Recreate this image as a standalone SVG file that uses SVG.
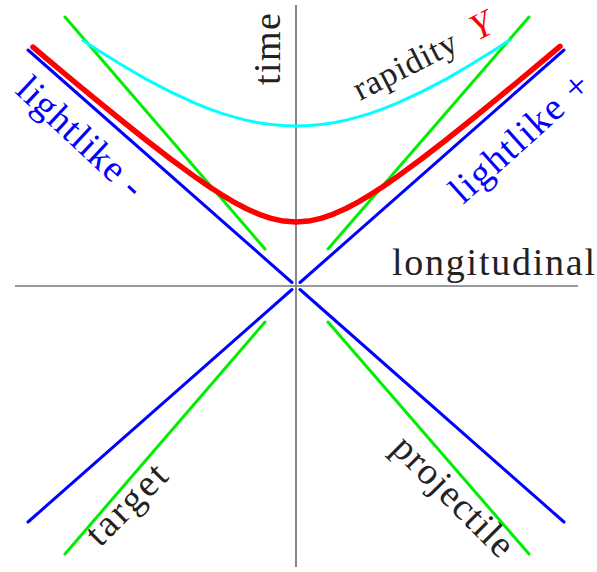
<svg xmlns="http://www.w3.org/2000/svg" width="597" height="572" viewBox="0 0 597 572">
<style>
.ln{fill:none;stroke-linecap:round;stroke-linejoin:round}
.blue{stroke:#0000ff;stroke-width:3}
.green{stroke:#00ee00;stroke-width:3}
.cyan{stroke:#00ffff;stroke-width:3}
.red{stroke:#ff0000;stroke-width:5.5}
.lbl{font-family:"Liberation Serif","DejaVu Serif",serif;font-size:38px;fill:#222}
.bl{fill:#0000ff}
</style>
<rect width="597" height="572" fill="#fff"/>
<g id="axes">
<line x1="296" y1="5" x2="296" y2="567" stroke="#333" stroke-width="1.2"/>
<line x1="15" y1="286" x2="578" y2="286" stroke="#777" stroke-width="1.6"/>
</g>
<g id="connectors">
<g id="lightlike-lines" class="ln blue">
<line x1="28" y1="50" x2="292" y2="282.5"/>
<line x1="300" y1="282.5" x2="564" y2="50"/>
<line x1="292" y1="289.5" x2="28" y2="522"/>
<line x1="300" y1="289.5" x2="564" y2="522"/>
</g>
<g id="beam-lines" class="ln green">
<line x1="65" y1="17" x2="265" y2="249"/>
<line x1="328" y1="249" x2="529" y2="17"/>
<line x1="265" y1="322" x2="65" y2="554"/>
<line x1="328" y1="322" x2="529" y2="554"/>
</g>
<polyline id="rapidity-curve" class="ln cyan" points="83,40.4 96,48.9 121,64.5 146,79.1 171,92.2 196,103.6 208.5,108.6 221,113.1 233.5,116.9 246,120.1 258.5,122.7 271,124.5 283.5,125.6 296,126 308.5,125.6 321,124.5 333.5,122.7 346,120.1 358.5,116.9 371,113.1 383.5,108.6 396,103.6 421,92.2 446,79.1 471,64.5 496,48.9 509,40.4"/>
<polyline id="hyperbola" class="ln red" points="33,47.1 46,58.1 71,79 96,99.7 121,120 146,140 171,159.3 196,177.6 208.5,186.2 221,194.3 233.5,201.8 246,208.5 258.5,214.1 271,218.4 283.5,221.1 296,222 308.5,221.1 321,218.4 333.5,214.1 346,208.5 358.5,201.8 371,194.3 383.5,186.2 396,177.6 421,159.3 446,140 471,120 496,99.7 521,79 546,58.1 560,46.3"/>
</g>
<g id="label-time"><text class="lbl" transform="translate(280,85) rotate(-90)" textLength="72">time</text></g>
<g id="label-longitudinal"><text class="lbl" x="392" y="275" textLength="203">longitudinal</text></g>
<g id="label-rapidity" transform="translate(360,101) rotate(-27)">
<text class="lbl" style="font-size:34px" textLength="112">rapidity</text>
<text x="132" y="0" style="font-family:'Liberation Serif','DejaVu Serif',serif;font-size:37px;font-style:italic;fill:#ff0000">Y</text>
</g>
<g id="label-lightlike-plus"><text class="lbl bl" transform="translate(463,205) rotate(-42)" textLength="174">lightlike +</text></g>
<g id="label-lightlike-minus"><text class="lbl bl" transform="translate(14,92) rotate(43)" textLength="159">lightlike -</text></g>
<g id="label-target"><text class="lbl" transform="translate(100,548) rotate(-45)" textLength="99">target</text></g>
<g id="label-projectile"><text class="lbl" transform="translate(390,450) rotate(45)" textLength="155">projectile</text></g>
</svg>
